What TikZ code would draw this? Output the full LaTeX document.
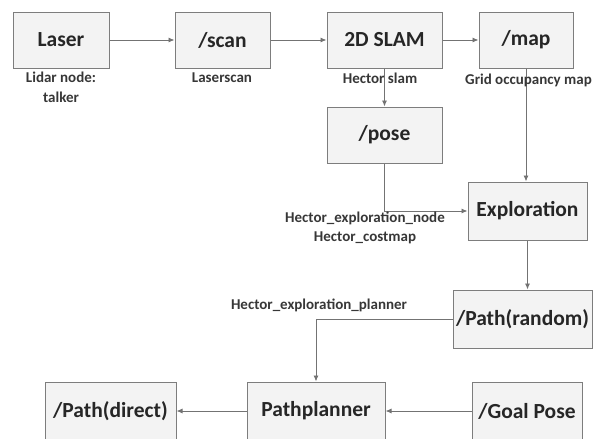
\documentclass[tikz,border=0pt]{standalone}
\usepackage{fontspec}
\setmainfont{Carlito}
\usetikzlibrary{arrows.meta}
\definecolor{boxfill}{RGB}{243,243,243}
\definecolor{boxline}{RGB}{125,125,125}
\definecolor{wirecol}{RGB}{115,115,115}
\definecolor{lbltext}{RGB}{55,55,55}

\begin{document}
\begin{tikzpicture}[x=1pt, y=-1pt, >={Latex[length=6pt,width=5pt]},
    box/.style={draw=boxline, line width=1pt, fill=boxfill, minimum height=56pt, inner sep=0pt, text=black!85, font=\bfseries\fontsize{21.5}{24}\selectfont},
    wire/.style={draw=wirecol, line width=0.9pt, ->},
    lbl/.style={align=center, text=lbltext, inner sep=0pt, font=\bfseries\fontsize{15}{19.5}\selectfont}]
    \useasboundingbox (0,0) rectangle (595,439);

    % boxes
    \node[box, minimum width=96pt] (laser) at (61,40) {Laser};
    \node[box, minimum width=95pt] (scan) at (222.5,40) {/scan};
    \node[box, minimum width=115pt] (slam) at (384.5,40) {2D SLAM};
    \node[box, minimum width=94pt] (map) at (526,40) {/map};
    \node[box, minimum width=115pt] (pose) at (384.5,135) {/pose};
    \node[box, minimum width=119pt, minimum height=58pt] (explore) at (527.5,211) {Exploration};
    \node[box, minimum width=139pt, minimum height=58pt] (prandom) at (522.5,319) {/Path(random)};
    \node[box, minimum width=131pt, minimum height=58pt] (pdirect) at (110.5,411) {/Path(direct)};
    \node[box, minimum width=138pt, minimum height=58pt] (planner) at (316,411) {Pathplanner};
    \node[box, minimum width=110pt, minimum height=58pt] (goal) at (527,411) {/Goal Pose};

    % connectors
    \draw[wire] (laser) -- (scan);
    \draw[wire] (scan) -- (slam);
    \draw[wire] (slam) -- (map);
    \draw[wire] (slam) -- (pose);
    \draw[wire] (map.south) -- (map.south |- explore.north);
    \draw[wire] (pose.south) |- (explore.west);
    \draw[wire] (explore.south) -- (explore.south |- prandom.north);
    \draw[wire] (prandom.west) -| (planner.north);
    \draw[wire] (goal) -- (planner);
    \draw[wire] (planner) -- (pdirect);

    % labels
    \node[lbl] (lidarlbl) at (61,87.5) {Lidar node:\\talker};
    \node[lbl] (scanlbl) at (222,78) {Laserscan};
    \node[lbl] (slamlbl) at (380,78) {Hector slam};
    \node[lbl, anchor=west] (maplbl) at (465,80) {Grid occupancy map};
    \node[lbl] (explorelbl) at (365,228) {Hector\_exploration\_node\\Hector\_costmap};
    \node[lbl] (plannerlbl) at (319,305) {Hector\_exploration\_planner};
\end{tikzpicture}
\end{document}
